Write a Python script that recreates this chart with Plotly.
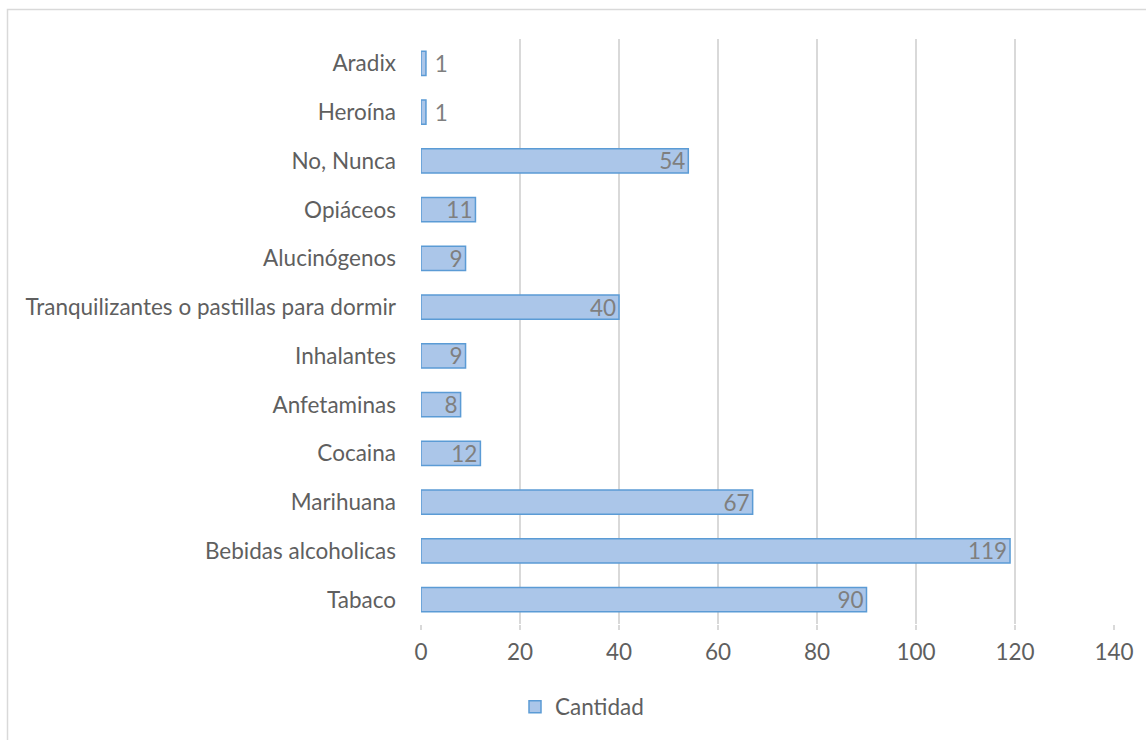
import plotly.graph_objects as go

categories = ["Tabaco", "Bebidas alcoholicas", "Marihuana", "Cocaina", "Anfetaminas",
              "Inhalantes", "Tranquilizantes o pastillas para dormir", "Alucinógenos",
              "Opiáceos", "No, Nunca", "Heroína", "Aradix"]
values = [90, 119, 67, 12, 8, 9, 40, 9, 11, 54, 1, 1]
x_ticks = [0, 20, 40, 60, 80, 100, 120, 140]

W, H = 1146, 740
L, R, T, B = 421, 1114, 39, 624

font_family = "Lato, 'Open Sans', sans-serif"
gray = "#5f5f5f"
FS = 22.5

textpos = ["outside" if v < 5 else "inside" for v in values]
labels = [(" " + str(v)) if v < 5 else str(v) for v in values]

fig = go.Figure()
fig.add_trace(go.Bar(
    y=categories, x=values, orientation="h", name="Cantidad",
    marker=dict(color="#abc6e9", line=dict(color="#5b9bd5", width=1.5)),
    width=0.5,
    text=labels, textposition=textpos, textangle=0,
    insidetextanchor="end", constraintext="none",
    textfont=dict(size=FS, color="#7f7f7f", family=font_family),
    cliponaxis=False,
))

def px2px(xp):
    return (xp - L) / (R - L)

def py2py(yp):
    return (B - yp) / (B - T)

fig.update_layout(
    width=W, height=H,
    margin=dict(l=L, r=W - R, t=T, b=H - B),
    paper_bgcolor="white", plot_bgcolor="white",
    font=dict(family=font_family, size=FS, color=gray),
    showlegend=True,
    legend=dict(orientation="h", x=px2px(582), xanchor="center",
                y=py2py(707), yanchor="middle",
                font=dict(size=FS, color=gray)),
    xaxis=dict(range=[0, 140], tickvals=x_ticks, showgrid=True,
               gridcolor="#d9d9d9", gridwidth=1.5, zeroline=False,
               showline=False, ticks="outside", ticklen=5, tickcolor="#d9d9d9",
               tickwidth=1.5, ticklabelstandoff=3,
               tickfont=dict(size=FS, color=gray)),
    yaxis=dict(showgrid=False, showline=False, zeroline=False, ticks="",
               ticklabelstandoff=24, tickfont=dict(size=FS, color=gray),
               categoryorder="array", categoryarray=categories),
    bargap=0.5,
    shapes=[dict(type="rect", xref="paper", yref="paper",
                 x0=px2px(7.5), x1=px2px(1160), y0=py2py(760), y1=py2py(9.5),
                 line=dict(color="#d9d9d9", width=1.5), fillcolor="rgba(0,0,0,0)",
                 layer="below")],
)

fig.write_html("out.html")
